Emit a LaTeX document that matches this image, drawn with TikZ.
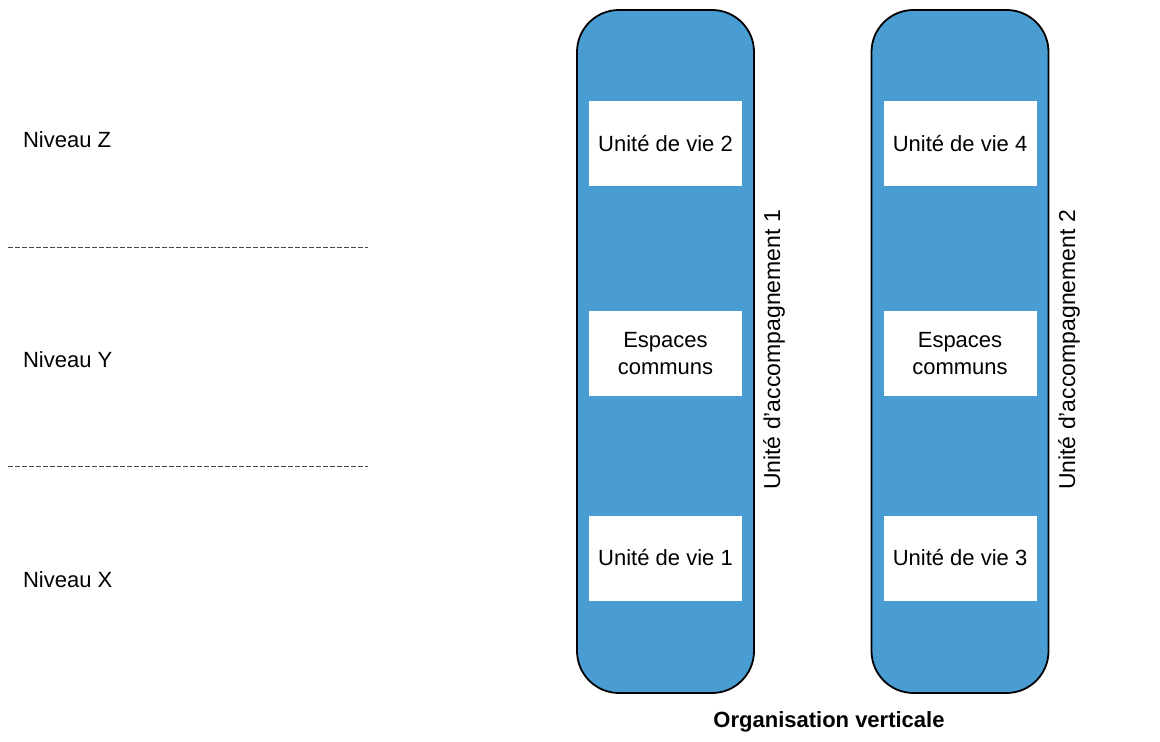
\documentclass[tikz,border=0pt]{standalone}
\usepackage{fontspec}
\setmainfont{Liberation Sans}
\usetikzlibrary{positioning}
\definecolor{towerBlue}{RGB}{74,157,211}
\definecolor{dashGray}{RGB}{70,70,70}

\begin{document}
\begin{tikzpicture}[x = 0.5pt, y = -0.5pt]
	\tikzstyle{towerStyle} = [draw = black, line width = 0.9pt, fill = towerBlue, rounded corners = 21pt, minimum width = 88.5pt, minimum height = 341.5pt, inner sep = 0pt]
	\tikzstyle{roomStyle} = [fill = white, minimum width = 76.5pt, minimum height = 42.5pt, inner sep = 1pt, align = center, font = \fontsize{11}{13.5}\selectfont]
	\tikzstyle{sideStyle} = [rotate = 90, font = \fontsize{11.5}{13}\selectfont]
	\tikzstyle{levelStyle} = [anchor = west, font = \fontsize{11}{13}\selectfont]
	\tikzstyle{levelLine} = [draw = dashGray, line width = 0.5pt, dash pattern = on 2.5pt off 1pt]
	\useasboundingbox (0, 0) rectangle (1160, 742);
	% towers
	\node[towerStyle] (t1) at (665.5, 351.5) {};
	\node[towerStyle] (t2) at (960, 351.5) {};
	% rooms
	\node[roomStyle] (u2) at (665.5, 143.5) {Unité de vie 2};
	\node[roomStyle] (e1) at (665.5, 353.5) {Espaces\\communs};
	\node[roomStyle] (u1) at (665.5, 558) {Unité de vie 1};
	\node[roomStyle] (u4) at (960, 143.5) {Unité de vie 4};
	\node[roomStyle] (e2) at (960, 353.5) {Espaces\\communs};
	\node[roomStyle] (u3) at (960, 558) {Unité de vie 3};
	% side labels
	\node[sideStyle] (a1) at (774, 350) {Unité d'accompagnement 1};
	\node[sideStyle] (a2) at (1069, 350) {Unité d'accompagnement 2};
	% levels
	\node[levelStyle] (nz) at (16, 140) {Niveau Z};
	\node[levelStyle] (ny) at (16, 360) {Niveau Y};
	\node[levelStyle] (nx) at (16, 580) {Niveau X};
	\coordinate (s1) at (8, 248);
	\coordinate (e1l) at (368, 248);
	\coordinate (s2) at (8, 466);
	\coordinate (e2l) at (368, 466);
	\draw[levelLine] (s1) -- (e1l);
	\draw[levelLine] (s2) -- (e2l);
	% title
	\node[font = \fontsize{11}{13}\selectfont\bfseries] (title) at (829, 722) {Organisation verticale};
\end{tikzpicture}
\end{document}
